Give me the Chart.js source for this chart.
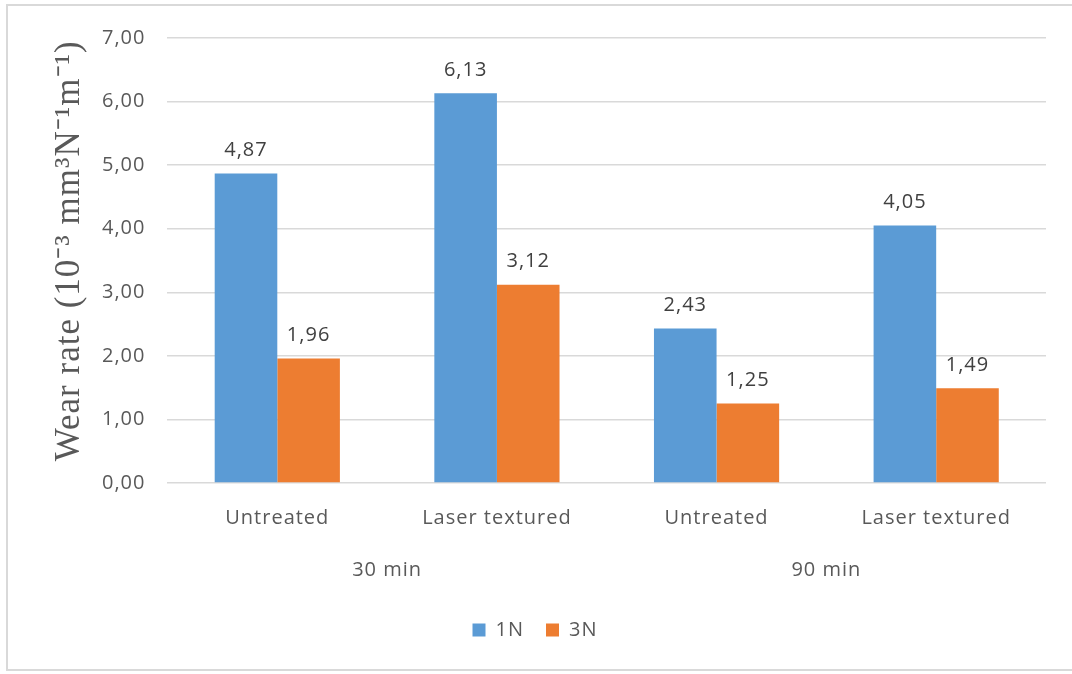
<!DOCTYPE html>
<html>
<head>
<meta charset="utf-8">
<script src="https://cdn.jsdelivr.net/npm/chart.js@4"></script>
<style>
  html, body { margin: 0; padding: 0; background: #fff; }
  #frame {
    position: absolute; left: 6px; top: 4px; width: 1080px; height: 667px;
    border: 2px solid #d9d9d9; box-sizing: border-box;
  }
  #wrap { position: absolute; left: 0; top: 0; width: 1072px; height: 674px; }
</style>
</head>
<body>
<div id="frame"></div>
<div id="wrap"><canvas id="wearChart"></canvas></div>
<script>
// Categories (inner level) and groups (outer level)
const categories = ["Untreated", "Laser textured", "Untreated", "Laser textured"];
const groups = ["30 min", "90 min"];

// Series values
const load1N = [4.87, 6.13, 2.43, 4.05];
const load3N = [1.96, 3.12, 1.25, 1.49];

const yTicks = [0, 1, 2, 3, 4, 5, 6, 7];

const textFont = "Open Sans";

// comma decimal like the original
function fmt(v) {
  return v.toFixed(2).replace(".", ",");
}

// the original text is a bit spaced out
const spacing = {
  id: "spacing",
  beforeUpdate(chart) {
    chart.ctx.letterSpacing = "1px";
  },
  beforeDraw(chart) {
    chart.ctx.letterSpacing = "1px";
  },
};

// Draw value labels above the bars
const valueLabels = {
  id: "valueLabels",
  afterDatasetsDraw(chart) {
    const ctx = chart.ctx;
    ctx.save();
    ctx.font = "20px '" + textFont + "'";
    ctx.fillStyle = "#404040";
    ctx.textAlign = "center";
    ctx.textBaseline = "bottom";
    chart.data.datasets.forEach((ds, i) => {
      const meta = chart.getDatasetMeta(i);
      meta.data.forEach((bar, j) => {
        ctx.fillText(fmt(ds.data[j]), bar.x, bar.y - 13);
      });
    });
    ctx.restore();
  },
};

const ctx = document.getElementById("wearChart").getContext("2d");
const wearChart = new Chart(ctx, {
  type: "bar",
  data: {
    labels: categories,
    datasets: [
      {
        label: "1N",
        data: load1N,
        backgroundColor: "#5b9bd5",
        categoryPercentage: 0.57,
        barPercentage: 1,
      },
      {
        label: "3N",
        data: load3N,
        backgroundColor: "#ed7d31",
        categoryPercentage: 0.57,
        barPercentage: 1,
      },
    ],
  },
  options: {
    responsive: true,
    maintainAspectRatio: false,
    animation: false,
    layout: {
      padding: { left: 24, right: 26, top: 38, bottom: 24 },
    },
    scales: {
      x: {
        grid: { display: false },
        border: { display: false },
        ticks: {
          color: "#595959",
          font: { family: textFont, size: 20 },
          padding: 15,
        },
      },
      x2: {
        type: "category",
        labels: groups,
        position: "bottom",
        grid: { display: false },
        border: { display: false },
        ticks: {
          color: "#595959",
          font: { family: textFont, size: 20 },
          padding: 5,
        },
        afterFit(axis) {
          axis.height += 11;
        },
      },
      y: {
        min: 0,
        max: 7,
        afterBuildTicks(axis) {
          axis.ticks = yTicks.map((v) => ({ value: v }));
        },
        grid: { color: "#d9d9d9", lineWidth: 1.5, drawTicks: false },
        border: { display: false },
        ticks: {
          color: "#595959",
          font: { family: textFont, size: 20 },
          padding: 22,
          callback: (v) => fmt(v),
        },
        title: {
          display: true,
          // leading spaces nudge the rotated, centred title up a little
          text: "\u00a0\u00a0Wear rate (10⁻³ mm³N⁻¹m⁻¹)",
          color: "#595959",
          font: { family: "Liberation Serif", size: 35 },
          padding: { top: 25, bottom: -11 },
        },
      },
    },
    plugins: {
      legend: {
        position: "bottom",
        labels: {
          color: "#595959",
          font: { family: textFont, size: 20 },
          boxWidth: 13,
          boxHeight: 13,
          padding: 22,
        },
      },
      tooltip: { enabled: false },
    },
  },
  plugins: [spacing, valueLabels],
});
</script>
</body>
</html>
